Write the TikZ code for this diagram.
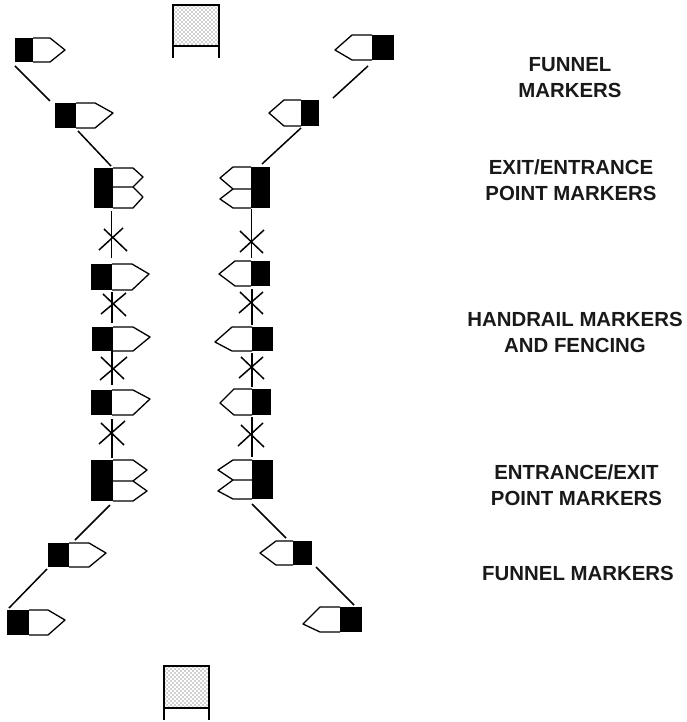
\documentclass[tikz,border=0pt]{standalone}
\usepackage{fontspec}
\setmainfont{Liberation Sans}
\newcommand{\mR}[9]{% name xl xm xs xt yt yb tipy
 \coordinate (#1) at (#3,#7);
 \fill[black] (#2,#6) rectangle (#3,#7);
 \draw[mk] (#3,#6) -- (#4,#6) -- (#5,#8) -- (#4,#7) -- (#3,#7);}
\newcommand{\mL}[8]{% name xr xm xs xt yt yb tipy
 \coordinate (#1) at (#3,#7);
 \fill[black] (#2,#6) rectangle (#3,#7);
 \draw[mk] (#3,#6) -- (#4,#6) -- (#5,#8) -- (#4,#7) -- (#3,#7);}
\newcommand{\dbl}[9]{% xl xm xs xt yt ymid yb tip1 tip2
 \fill[black] (#1,#5) rectangle (#2,#7);
 \draw[mk] (#2,#5) -- (#3,#5) -- (#4,#8) -- (#3,#6) -- (#2,#6);
 \draw[mk] (#3,#6) -- (#4,#9) -- (#3,#7) -- (#2,#7);}
\newcommand{\fence}[9]{% x ytop ybot arm1 arm2
 \draw[ln] (#1,#2) -- (#1,#3);
 \draw[ln] (#4,#5) -- (#6,#7);
 \draw[ln] (#8,#9) -- ++(23,22);}
\newcommand{\flagm}[5]{% name x0 y0 x1 y1
 \begin{scope}
 \clip (#2,#3) rectangle (#4,#5);
 \foreach \i in {0,...,12} \foreach \j in {0,...,22}
   \fill[black!80] ({#2+1+4*\i+2*mod(\j,2)},{#3+1+2*\j}) circle (0.72);
 \end{scope}
 \draw[ln] (#2,#3) rectangle (#4,#5);
 \draw[ln] (#2,#5) -- ++(0,12);
 \draw[ln] (#4,#5) -- ++(0,12);
 \coordinate (#1) at (#2,#3);}
\tikzset{
 mk/.style={draw=black,line width=1.3pt,fill=none,line join=round},
 ln/.style={draw=black,line width=1.5pt},
 lab/.style={font=\bfseries\fontsize{20.4pt}{25.5pt}\selectfont,align=center,text=black!90,inner sep=0pt}
}
\begin{document}
\begin{tikzpicture}[x=1pt,y=-1pt]
\useasboundingbox (0,0) rectangle (686,722);
% flags
\flagm{ftop}{173}{5}{219}{46}
\flagm{fbot}{164}{666}{209}{708}
% left column
\mR{a1}{15}{33}{50}{65}{38}{62}{50}{}
\mR{a2}{55}{76}{95}{113}{103}{128}{113}{}
\dbl{94}{113}{133}{143}{168}{187}{208}{177}{197}
\mR{a3}{91}{112}{132}{149}{264}{290}{274}{}
\mR{a4}{92}{113}{133}{150}{327}{351}{337}{}
\mR{a5}{91}{112}{133}{150}{390}{415}{399}{}
\dbl{91}{113}{133}{147}{460}{481}{501}{470}{491}
\mR{a6}{48}{69}{89}{106}{543}{567}{553}{}
\mR{a7}{7}{29}{48}{65}{610}{635}{620}{}
% right column
\mL{b1}{394}{372}{352}{335}{35}{60}{50}
\mL{b2}{319}{301}{284}{269}{100}{126}{113}
\dbl{270}{251}{233}{220}{167}{189}{208}{178}{199}
\mL{b3}{270}{251}{235}{219}{261}{286}{274}
\mL{b4}{273}{252}{232}{215}{327}{351}{342}
\mL{b5}{271}{252}{234}{220}{389}{415}{403}
\dbl{273}{252}{233}{218}{460}{480}{499}{470}{491}
\mL{b6}{312}{293}{276}{260}{541}{565}{553}
\mL{b7}{362}{340}{320}{303}{607}{632}{624}
% fencing
\fence{111.5}{211}{258}{99}{250}{123}{228}{104}{229}
\fence{112}{292}{323}{101}{314}{126}{293}{103}{294}
\fence{112}{351}{385}{100}{380}{127}{357}{101}{357}
\fence{112}{419}{458}{99}{444}{125}{421}{101}{423}
\fence{251.5}{209}{258}{240}{252}{264}{230}{240}{231}
\fence{252}{289}{325}{239}{313}{263}{292}{240}{292}
\fence{252}{353}{387}{239}{378}{263}{357}{241}{357}
\fence{252}{417}{457}{238}{446}{263}{423}{241}{425}
% funnel connectors
\coordinate (c1) at (15,66); \coordinate (c2) at (50,101);
\coordinate (c3) at (78,131); \coordinate (c4) at (111,166);
\coordinate (c5) at (368,66); \coordinate (c6) at (333,98);
\coordinate (c7) at (301,128); \coordinate (c8) at (262,164);
\coordinate (c9) at (110,505); \coordinate (c10) at (75,540);
\coordinate (c11) at (47,569); \coordinate (c12) at (9,608);
\coordinate (c13) at (252,504); \coordinate (c14) at (286,538);
\coordinate (c15) at (316,567); \coordinate (c16) at (354,605);
\foreach \p/\q in {c1/c2,c3/c4,c5/c6,c7/c8,c9/c10,c11/c12,c13/c14,c15/c16}
  \draw[ln] (\p) -- (\q);
% labels
\node[lab] (t1) at (570,77.5) {FUNNEL\\MARKERS};
\node[lab] (t2) at (571,180) {EXIT/ENTRANCE\\POINT MARKERS};
\node[lab] (t3) at (575,332.5) {HANDRAIL MARKERS\\AND FENCING};
\node[lab] (t4) at (576.5,485) {ENTRANCE/EXIT\\POINT MARKERS};
\node[lab] (t5) at (578,573) {FUNNEL MARKERS};
\end{tikzpicture}
\end{document}
